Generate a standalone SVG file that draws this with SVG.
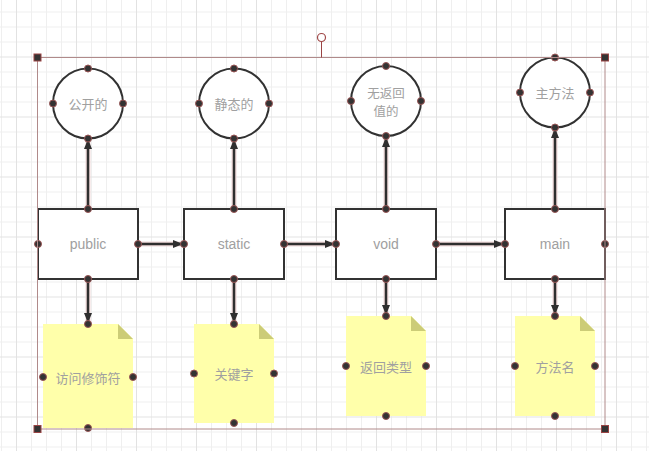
<svg xmlns="http://www.w3.org/2000/svg" width="649" height="451" viewBox="0 0 649 451">
<style>
.shape{fill:#ffffff;stroke:#323232;stroke-width:2}
.note{fill:#ffffaa}
.fold{fill:#cccc77}
.lbl{font-family:"Noto Sans CJK SC","Liberation Sans",sans-serif;font-size:13px;fill:#a0a0a0;text-anchor:middle;dominant-baseline:central}
.sm{font-size:12.5px}
.en{font-family:"Liberation Sans","Noto Sans",sans-serif;font-size:14px}
.pt{fill:#333333;stroke:#9a5555;stroke-width:1}
.halo{stroke:#efdada;stroke-width:5;fill:none}
.ln{stroke:#2f2f2f;stroke-width:2.5;fill:none;marker-end:url(#arr)}
.sel{fill:none;stroke:#b08a8a;stroke-width:1}
.hd{fill:#333333;stroke:#9a4444;stroke-width:1}
</style>
<defs>
<pattern id="grid" x="16" y="-3.5" width="60" height="60" patternUnits="userSpaceOnUse">
<rect width="60" height="60" fill="#ffffff"/>
<rect x="15" y="0" width="1" height="60" fill="#efefef"/>
<rect x="30" y="0" width="1" height="60" fill="#efefef"/>
<rect x="45" y="0" width="1" height="60" fill="#efefef"/>
<rect x="0" y="15" width="60" height="1" fill="#efefef"/>
<rect x="0" y="30" width="60" height="1" fill="#efefef"/>
<rect x="0" y="45" width="60" height="1" fill="#efefef"/>
<rect x="0" y="0" width="1" height="60" fill="#e2e2e2"/>
<rect x="0" y="0" width="60" height="1" fill="#e2e2e2"/>
</pattern>
<marker id="arr" viewBox="0 0 10 8" refX="9" refY="4" markerWidth="10" markerHeight="8" markerUnits="userSpaceOnUse" orient="auto">
<path d="M0,0 L10,4 L0,8 Z" fill="#2f2f2f"/>
</marker>
</defs>
<rect width="649" height="451" fill="url(#grid)"/>

<g id="connectors">
<path class="halo" d="M88,209 V140 M234,209 V140 M386,209 V138 M555,209 V129 M88,279 V322 M234,279 V322 M386,279 V314 M555,279 V314 M138,244 H182 M284,244 H334 M436,244 H503"/>
<path class="ln" d="M88,209 V140"/>
<path class="ln" d="M234,209 V140"/>
<path class="ln" d="M386,209 V138"/>
<path class="ln" d="M555,209 V129"/>
<path class="ln" d="M88,279 V322"/>
<path class="ln" d="M234,279 V322"/>
<path class="ln" d="M386,279 V314"/>
<path class="ln" d="M555,279 V314"/>
<path class="ln" d="M138,244 H182"/>
<path class="ln" d="M284,244 H334"/>
<path class="ln" d="M436,244 H503"/>
</g>

<g id="c-public">
<circle class="shape" cx="88" cy="103.5" r="35"/>
<text class="lbl" x="88" y="103.5">公开的</text>
<circle class="pt" cx="88" cy="68.5" r="3.5"/><circle class="pt" cx="88" cy="138.5" r="3.5"/><circle class="pt" cx="53" cy="103.5" r="3.5"/><circle class="pt" cx="123" cy="103.5" r="3.5"/>
</g>
<g id="c-static">
<circle class="shape" cx="234" cy="103.5" r="35"/>
<text class="lbl" x="234" y="103.5">静态的</text>
<circle class="pt" cx="234" cy="68.5" r="3.5"/><circle class="pt" cx="234" cy="138.5" r="3.5"/><circle class="pt" cx="199" cy="103.5" r="3.5"/><circle class="pt" cx="269" cy="103.5" r="3.5"/>
</g>
<g id="c-void">
<circle class="shape" cx="386" cy="101" r="35"/>
<text class="lbl sm" x="386" y="92"><tspan x="386">无返回</tspan><tspan x="386" dy="18">值的</tspan></text>
<circle class="pt" cx="386" cy="66" r="3.5"/><circle class="pt" cx="386" cy="136" r="3.5"/><circle class="pt" cx="351" cy="101" r="3.5"/><circle class="pt" cx="421" cy="101" r="3.5"/>
</g>
<g id="c-main">
<circle class="shape" cx="555" cy="92.5" r="35"/>
<text class="lbl" x="555" y="92.5">主方法</text>
<circle class="pt" cx="555" cy="57.5" r="3.5"/><circle class="pt" cx="555" cy="127.5" r="3.5"/><circle class="pt" cx="520" cy="92.5" r="3.5"/><circle class="pt" cx="590" cy="92.5" r="3.5"/>
</g>

<g id="r-public">
<rect class="shape" x="38" y="209" width="100" height="70"/>
<text class="lbl en" x="88" y="244">public</text>
<circle class="pt" cx="88" cy="209" r="3.5"/><circle class="pt" cx="88" cy="279" r="3.5"/><circle class="pt" cx="38" cy="244" r="3.5"/><circle class="pt" cx="138" cy="244" r="3.5"/>
</g>
<g id="r-static">
<rect class="shape" x="184" y="209" width="100" height="70"/>
<text class="lbl en" x="234" y="244">static</text>
<circle class="pt" cx="234" cy="209" r="3.5"/><circle class="pt" cx="234" cy="279" r="3.5"/><circle class="pt" cx="184" cy="244" r="3.5"/><circle class="pt" cx="284" cy="244" r="3.5"/>
</g>
<g id="r-void">
<rect class="shape" x="336" y="209" width="100" height="70"/>
<text class="lbl en" x="386" y="244">void</text>
<circle class="pt" cx="386" cy="209" r="3.5"/><circle class="pt" cx="386" cy="279" r="3.5"/><circle class="pt" cx="336" cy="244" r="3.5"/><circle class="pt" cx="436" cy="244" r="3.5"/>
</g>
<g id="r-main">
<rect class="shape" x="505" y="209" width="100" height="70"/>
<text class="lbl en" x="555" y="244">main</text>
<circle class="pt" cx="555" cy="209" r="3.5"/><circle class="pt" cx="555" cy="279" r="3.5"/><circle class="pt" cx="505" cy="244" r="3.5"/><circle class="pt" cx="605" cy="244" r="3.5"/>
</g>

<g id="n-access">
<path class="note" d="M43,324 H118 L133,339 V428 H43 Z"/>
<path class="fold" d="M118,324 L133,339 H118 Z"/>
<text class="lbl" x="88" y="377">访问修饰符</text>
<circle class="pt" cx="88" cy="324" r="3.5"/><circle class="pt" cx="88" cy="428" r="3.5"/><circle class="pt" cx="43" cy="377" r="3.5"/><circle class="pt" cx="133" cy="377" r="3.5"/>
</g>
<g id="n-keyword">
<path class="note" d="M194,324 H259 L274,339 V423 H194 Z"/>
<path class="fold" d="M259,324 L274,339 H259 Z"/>
<text class="lbl" x="234" y="373.5">关键字</text>
<circle class="pt" cx="234" cy="324" r="3.5"/><circle class="pt" cx="234" cy="423" r="3.5"/><circle class="pt" cx="194" cy="373.5" r="3.5"/><circle class="pt" cx="274" cy="373.5" r="3.5"/>
</g>
<g id="n-return">
<path class="note" d="M346,316 H411 L426,331 V416 H346 Z"/>
<path class="fold" d="M411,316 L426,331 H411 Z"/>
<text class="lbl" x="386" y="366">返回类型</text>
<circle class="pt" cx="386" cy="316" r="3.5"/><circle class="pt" cx="386" cy="416" r="3.5"/><circle class="pt" cx="346" cy="366" r="3.5"/><circle class="pt" cx="426" cy="366" r="3.5"/>
</g>
<g id="n-method">
<path class="note" d="M515,316 H580 L595,331 V416 H515 Z"/>
<path class="fold" d="M580,316 L595,331 H580 Z"/>
<text class="lbl" x="555" y="366">方法名</text>
<circle class="pt" cx="555" cy="316" r="3.5"/><circle class="pt" cx="555" cy="416" r="3.5"/><circle class="pt" cx="515" cy="366" r="3.5"/><circle class="pt" cx="595" cy="366" r="3.5"/>
</g>

<g id="selection">
<rect class="sel" x="37.5" y="57.5" width="567.5" height="371.5"/>
<line x1="321.5" y1="41.5" x2="321.5" y2="57.5" stroke="#9a4444" stroke-width="1"/>
<circle cx="321.5" cy="37.5" r="4" fill="#ffffff" stroke="#a04848" stroke-width="1.2"/>
<rect class="hd" x="34" y="54" width="7" height="7"/>
<rect class="hd" x="601.5" y="54" width="7" height="7"/>
<rect class="hd" x="34" y="425.5" width="7" height="7"/>
<rect class="hd" x="601.5" y="425.5" width="7" height="7"/>
</g>
</svg>
